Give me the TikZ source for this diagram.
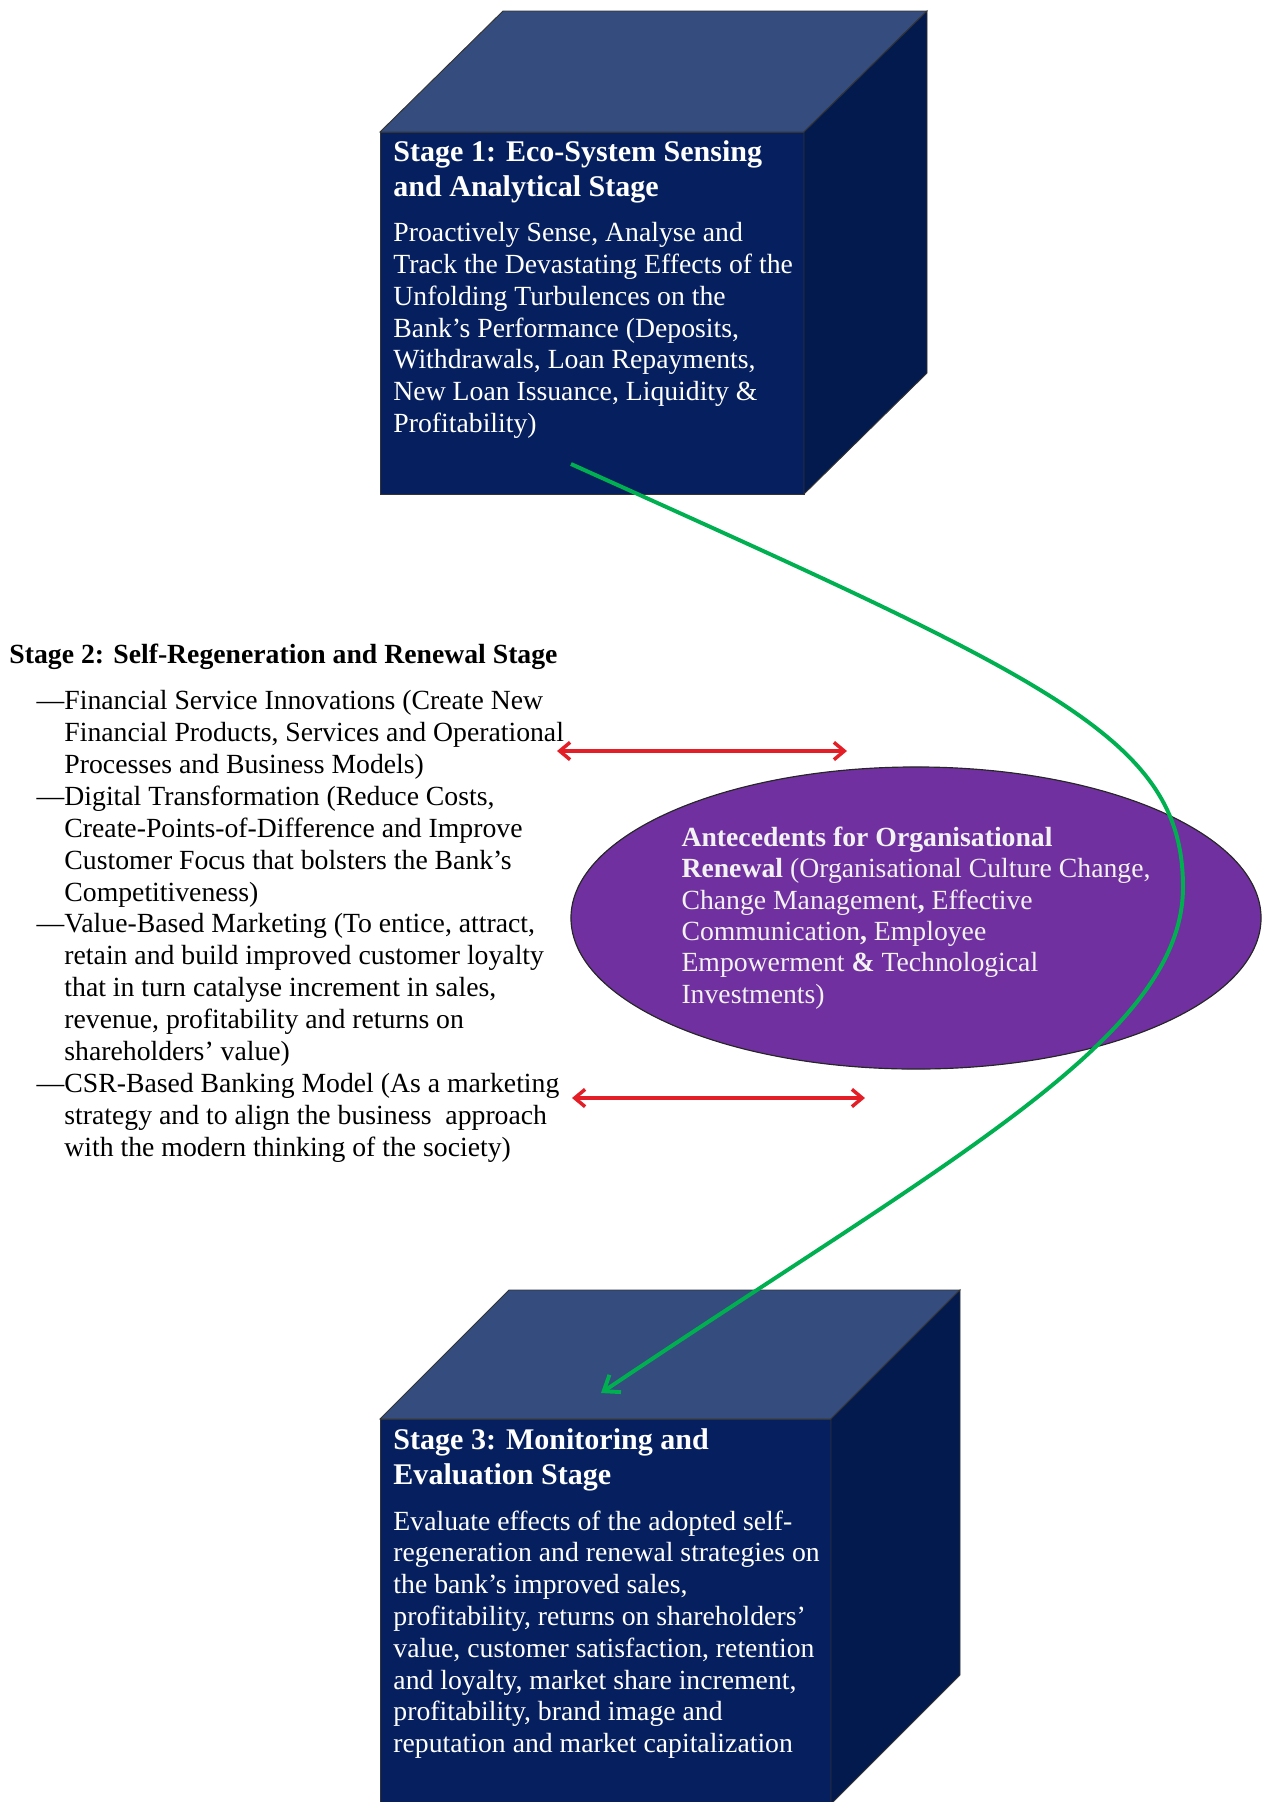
\documentclass[tikz,border=0pt]{standalone}
\usepackage{fontspec}
\setmainfont{Liberation Serif}
\usepackage{tikz}
\usetikzlibrary{shapes.geometric}
\usetikzlibrary{arrows.meta}
\definecolor{cubeFront}{HTML}{06205F}
\definecolor{cubeTop}{HTML}{344C7E}
\definecolor{cubeSide}{HTML}{031A4E}
\definecolor{renewPurple}{HTML}{7030A0}
\definecolor{linkRed}{HTML}{E41E26}
\definecolor{flowGreen}{HTML}{00B050}

\begin{document}
\begin{tikzpicture}[x=0.433pt,y=-0.433pt,
    stagehead/.style={anchor=base west,align=left,inner sep=0pt,text=white,font=\fontsize{13}{15}\selectfont\bfseries},
    stagebody/.style={anchor=base west,align=left,inner sep=0pt,text=white,font=\fontsize{12}{13.75}\selectfont},
    listtext/.style={anchor=base west,align=left,inner sep=0pt,font=\fontsize{12}{13.8}\selectfont},
    twoway/.style={draw=linkRed,line width=1.5pt,{Straight Barb[length=4.5pt,width=7.5pt]}-{Straight Barb[length=4.5pt,width=7.5pt]}},
    flow/.style={draw=flowGreen,line width=1.7pt,-{Straight Barb[length=6pt,width=9pt]}}]

      \useasboundingbox (0,0) rectangle (1263,1802);

      % draw the two cubes
      \foreach \cx/\cy/\cw/\ch/\dx/\dy in {380/132/424/362/123/121, 380/1419/451/385/129/129}
      {
        \filldraw[fill=cubeFront, draw=black!80, line width=0.4pt] (\cx,\cy) rectangle ++(\cw,\ch);
        \filldraw[fill=cubeTop, draw=black!80, line width=0.4pt] (\cx,\cy) -- ++(\dx,-\dy) -- ++(\cw,0) -- ++(-\dx,\dy) -- cycle;
        \filldraw[fill=cubeSide, draw=black!80, line width=0.4pt] ({\cx+\cw},\cy) -- ++(\dx,-\dy) -- ++(0,\ch) -- ++(-\dx,\dy) -- cycle;
      }

      % stage 1 (nodes sit on the baseline of their last line)
      \node[stagehead] (senseHead) at (393,196.5) {Stage 1: Eco-System Sensing\\and Analytical Stage};
      \node[stagebody] (senseBody) at (393,432.5) {Proactively Sense, Analyse and\\Track the Devastating Effects of the\\Unfolding Turbulences on the\\Bank’s Performance (Deposits,\\Withdrawals, Loan Repayments,\\New Loan Issuance, Liquidity \&\\Profitability)};

      % stage 2
      \node[listtext,font=\fontsize{12}{13.8}\selectfont\bfseries] (renewHead) at (9,663) {Stage 2: Self-Regeneration and Renewal Stage};
      \node[listtext] (renewList) at (64,1156) {\llap{—}Financial Service Innovations (Create New\\Financial Products, Services and Operational\\Processes and Business Models)\\\llap{—}Digital Transformation (Reduce Costs,\\Create-Points-of-Difference and Improve\\Customer Focus that bolsters the Bank’s\\Competitiveness)\\\llap{—}Value-Based Marketing (To entice, attract,\\retain and build improved customer loyalty\\that in turn catalyse increment in sales,\\revenue, profitability and returns on\\shareholders’ value)\\\llap{—}CSR-Based Banking Model (As a marketing\\strategy and to align the business\ \ approach\\with the modern thinking of the society)};

      % the antecedents ellipse
      \node[ellipse, fill=renewPurple, draw=black!85, line width=0.5pt, minimum width=298.8pt, minimum height=130.8pt, inner sep=0pt,
            align=left, text=white!95!black, font=\fontsize{12}{13.55}\selectfont] (antecedents) at (916,918)
        {\textbf{Antecedents for Organisational}\\\textbf{Renewal} (Organisational Culture Change,\\Change Management\textbf{,} Effective\\Communication\textbf{,} Employee\\Empowerment \textbf{\&} Technological\\Investments)};

      % stage 3
      \node[stagehead] (evalHead) at (393,1484.5) {Stage 3: Monitoring and\\Evaluation Stage};
      \node[stagebody] (evalBody) at (393,1752.5) {Evaluate effects of the adopted self-\\regeneration and renewal strategies on\\the bank’s improved sales,\\profitability, returns on shareholders’\\value, customer satisfaction, retention\\and loyalty, market share increment,\\profitability, brand image and\\reputation and market capitalization};

      % red links between the list and the ellipse
      \coordinate (fsiEnd) at (557,751);
      \coordinate (fsiTip) at (847,751);
      \coordinate (csrEnd) at (572,1098);
      \coordinate (csrTip) at (865,1098);
      \draw[twoway] (fsiEnd) -- (fsiTip);
      \draw[twoway] (csrEnd) -- (csrTip);

      % green flow from stage 1 to stage 3
      \coordinate (senseOut) at (571,464);
      \coordinate (bendPt) at (1183,887);
      \coordinate (evalIn) at (601,1393);
      \draw[flow] (senseOut) .. controls (1050,680) and (1183,737) .. (bendPt) .. controls (1183,1037) and (951,1158) .. (evalIn);

\end{tikzpicture}
\end{document}
